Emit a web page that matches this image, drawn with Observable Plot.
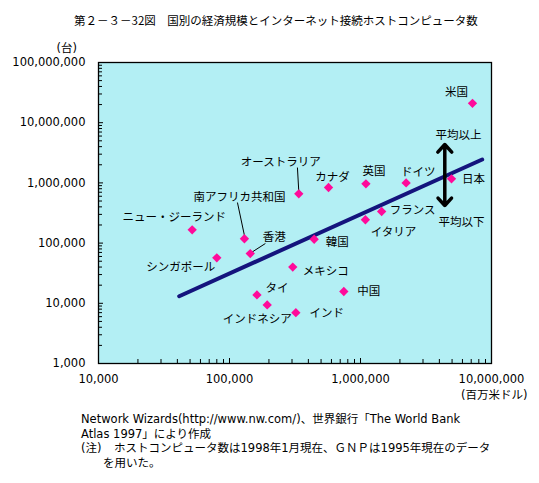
<!DOCTYPE html>
<html><head><meta charset="utf-8">
<script src="https://cdn.jsdelivr.net/npm/d3@7"></script>
<script src="https://cdn.jsdelivr.net/npm/@observablehq/plot@0.6"></script>
<style>
body{margin:0;background:#fff;color:#000;font-family:"DejaVu Sans","Noto Sans CJK JP",sans-serif;}
#title{height:18px;padding-top:12px;padding-left:74px;font-size:11.5px;line-height:16px;white-space:nowrap;font-family:"Noto Sans CJK JP",sans-serif;}
#chart{height:380px;}
#caption{font-size:11.5px;line-height:14.7px;padding-top:2px;padding-left:81px;white-space:nowrap;}
#caption .note{display:inline-block;width:33px;}
#caption .ind{padding-left:22px;}
</style></head>
<body>
<div id="title">第２－３－32図　国別の経済規模とインターネット接続ホストコンピュータ数</div>
<div id="chart"></div>
<div id="caption">
<div>Network Wizards(http://www.nw.com/)、世界銀行「The World Bank</div>
<div>Atlas 1997」により作成</div>
<div><span class="note">(注)</span>ホストコンピュータ数は1998年1月現在、ＧＮＰは1995年現在のデータ</div>
<div class="ind">を用いた。</div>
</div>
<script>
// ---- data ----
const countries = ["米国","日本","ドイツ","英国","カナダ","オーストラリア","フランス","イタリア","韓国","南アフリカ共和国","香港","ニュー・ジーランド","シンガポール","メキシコ","中国","タイ","インドネシア","インド"];
const gnp = [7160000, 4950000, 2230000, 1100000, 570000, 338000, 1450000, 1090000, 443000, 130000, 144000, 51900, 80000, 304000, 746000, 162000, 194000, 321000];
const hosts = [21000000, 1170000, 1000000, 966000, 839000, 659000, 335000, 244000, 116000, 118000, 67000, 166000, 57000, 40000, 15700, 13800, 9400, 7000];
// regression (average) line endpoints
const regGnp = [41300, 8490000];
const regHosts = [13100, 2450000];
// tick values
const xTicks = [10000, 100000, 1000000, 10000000];
const yTicks = [1000, 10000, 100000, 1000000, 10000000, 100000000];
const yUnit = "(台)";
const xUnit = "(百万米ドル)";
// annotation: arrow + texts
const arrowGnp = [4400000, 4400000];
const arrowFrom = [1330000, 1330000];
const arrowTo = [4350000, 421000];
const noteTexts = ["平均以上", "平均以下"];
const noteGnp = [5600000, 5900000];
const noteHosts = [6120000, 220000];
// leader lines (data units)
const leadX1 = [330000, 115000, 188000];
const leadY1 = [1800000, 472000, 98500];
const leadX2 = [338000, 130000, 147000];
const leadY2 = [720000, 134000, 69800];
// label offsets (px)
const labelDx = [-16, 22, 12, 8, 4, -18, 31, 28, 23, -5, 24, -18, -36, 33, 25, 20, -10, 31];
const labelDy = [-11, 1, -11, -12, -10, -31, -1, 13, 3, -41, -16, -13, 10, 4, 0, -7, 14, 1];

// ---- layout ----
const W = 539, H = 380, mT = 32, mB = 47, mL = 98, mR = 48;
const plotW = W - mL - mR, plotH = H - mT - mB;
const fmt = d3.format(",");
const xMinor = [], yMinor = [];
for (let e = 4; e < 7; e++) for (let m = 2; m <= 9; m++) xMinor.push(m * 10 ** e);
for (let e = 3; e < 8; e++) for (let m = 2; m <= 9; m++) yMinor.push(m * 10 ** e);
const idx = countries.map((_, i) => i);

const marks = [
  Plot.frame({fill: "url(#dots)"}),
  Plot.tickX(xMinor, {x: d => d, insetTop: plotH - 4, stroke: "#000"}),
  Plot.tickX(xTicks, {x: d => d, insetTop: plotH - 5, stroke: "#000"}),
  Plot.tickY(yMinor, {y: d => d, insetRight: plotW - 4, stroke: "#000"}),
  Plot.tickY(yTicks, {y: d => d, insetRight: plotW - 5, stroke: "#000"}),
  Plot.frame({stroke: "#000", strokeWidth: 1.3}),
  Plot.link([0, 1, 2], {x1: i => leadX1[i], y1: i => leadY1[i], x2: i => leadX2[i], y2: i => leadY2[i], stroke: "#000", strokeWidth: 1}),
  Plot.line([0, 1], {x: i => regGnp[i], y: i => regHosts[i], stroke: "#14147d", strokeWidth: 4}),
  Plot.arrow([0, 1], {x1: i => arrowGnp[i], y1: i => arrowFrom[i], x2: i => arrowGnp[i], y2: i => arrowTo[i], stroke: "#000", strokeWidth: 3.5, headLength: 13, headAngle: 85}),
  Plot.text([0, 1], {x: i => noteGnp[i], y: i => noteHosts[i], text: i => noteTexts[i], fontSize: 11.5}),
  Plot.dot(idx, {x: i => gnp[i], y: i => hosts[i], symbol: "diamond2", r: 4.2, fill: "#ff0a9a", stroke: "none"}),
  ...idx.map(i => Plot.text([i], {x: j => gnp[j], y: j => hosts[j], text: j => countries[j], dx: labelDx[i], dy: labelDy[i], fontSize: 11.5})),
  Plot.text(xTicks, {x: d => d, text: d => fmt(d), frameAnchor: "bottom", dy: 19, fontSize: 11.5}),
  Plot.text(yTicks, {y: d => d, text: d => fmt(d), frameAnchor: "left", textAnchor: "end", dx: -13, fontSize: 11.5}),
  Plot.text([yUnit], {frameAnchor: "top-left", dx: -42, dy: -18.5, text: d => d, fontSize: 11.5}),
  Plot.text([xUnit], {frameAnchor: "bottom-right", textAnchor: "end", dx: 36, dy: 35, text: d => d, fontSize: 11.5})
];

const svg = Plot.plot({
  width: W, height: H,
  marginTop: mT, marginBottom: mB, marginLeft: mL, marginRight: mR,
  style: {fontFamily: '"DejaVu Sans","Noto Sans CJK JP",sans-serif', fontSize: "11.5px", background: "#fff", color: "#000", overflow: "visible"},
  x: {type: "log", domain: [1e4, 1e7], axis: null},
  y: {type: "log", domain: [1e3, 1e8], axis: null},
  marks
});
const defs = d3.select(svg).insert("defs", ":first-child");
const pat = defs.append("pattern").attr("id", "dots").attr("width", 2).attr("height", 2).attr("patternUnits", "userSpaceOnUse");
pat.append("rect").attr("width", 2).attr("height", 2).attr("fill", "#fff");
pat.append("rect").attr("width", 1).attr("height", 1).attr("fill", "#33d3e3");
pat.append("rect").attr("x", 1).attr("y", 1).attr("width", 1).attr("height", 1).attr("fill", "#9be9ef");
document.getElementById("chart").appendChild(svg);
</script>
</body></html>
